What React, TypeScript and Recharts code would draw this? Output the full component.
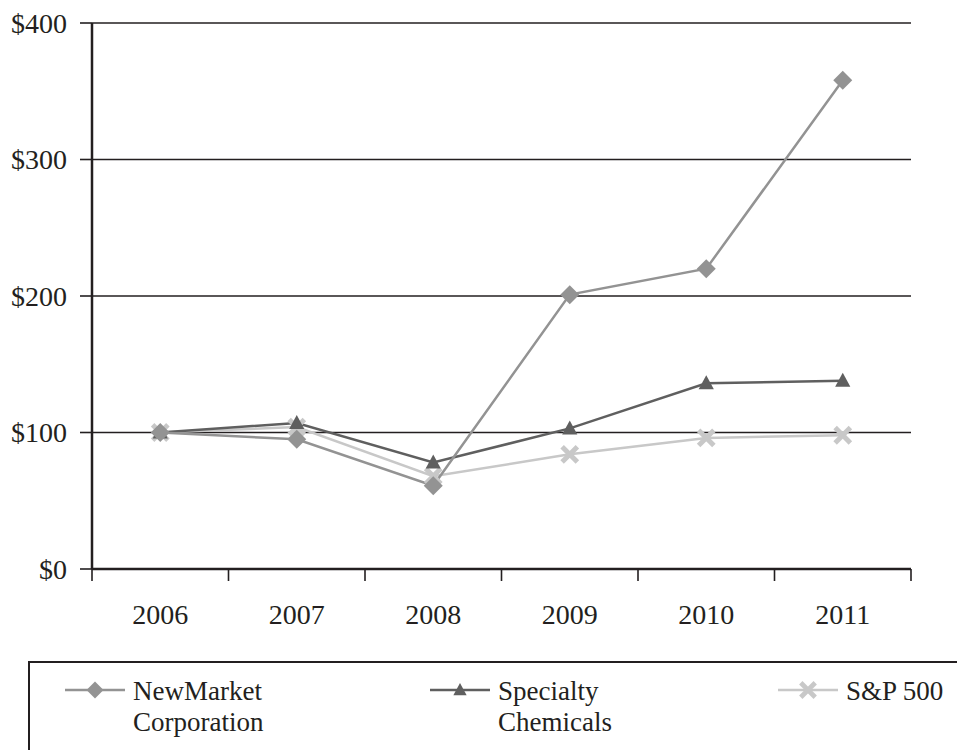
import { LineChart, Line, XAxis, YAxis, CartesianGrid } from "recharts";

const categories = ["2006", "2007", "2008", "2009", "2010", "2011"];
const newMarket = [100, 95, 61, 201, 220, 358];
const specialty = [100, 107, 78, 103, 136, 138];
const sp500 = [100, 104, 68, 84, 96, 98];
const seriesNames = ["NewMarket Corporation", "Specialty Chemicals", "S&P 500"];
const yTicks = [0, 100, 200, 300, 400];

const data = categories.map((year, i) => ({
  x: i + 0.5,
  year,
  newMarket: newMarket[i],
  specialty: specialty[i],
  sp500: sp500[i],
}));

const bandTicks = categories.map((_, i) => i).concat(categories.length);
const labelTicks = categories.map((_, i) => i + 0.5);

const INK = "#231f20";
const FONT = "'Liberation Serif', 'Times New Roman', serif";

const COLORS = { newMarket: "#939393", specialty: "#5f5f5f", sp500: "#c8c8c8" };

type Shape = "diamond" | "triangle" | "cross";

function Marker({ cx, cy, shape, color, size }: { cx: number; cy: number; shape: Shape; color: string; size: number }) {
  if (cx == null || cy == null) return null;
  if (shape === "diamond") {
    const r = size;
    return <polygon points={`${cx},${cy - r} ${cx + r},${cy} ${cx},${cy + r} ${cx - r},${cy}`} fill={color} />;
  }
  if (shape === "triangle") {
    const h = size;
    return (
      <polygon
        points={`${cx},${cy - h} ${cx + h * 0.95},${cy + h * 0.75} ${cx - h * 0.95},${cy + h * 0.75}`}
        fill={color}
      />
    );
  }
  const r = size * 0.85;
  return (
    <g stroke={color} strokeWidth={size * 0.55}>
      <line x1={cx - r} y1={cy - r} x2={cx + r} y2={cy + r} />
      <line x1={cx - r} y1={cy + r} x2={cx + r} y2={cy - r} />
    </g>
  );
}

const series: { key: "newMarket" | "specialty" | "sp500"; name: string; shape: Shape; left: number }[] = [
  { key: "newMarket", name: seriesNames[0], shape: "diamond", left: 57 },
  { key: "specialty", name: seriesNames[1], shape: "triangle", left: 422 },
  { key: "sp500", name: seriesNames[2], shape: "cross", left: 770 },
];

const tickStyle = { fill: INK, fontSize: 28, fontFamily: FONT };

export default function App() {
  // draw order: S&P first, NewMarket on top
  const drawOrder = [series[2], series[1], series[0]];
  return (
    <div style={{ position: "relative", width: 957, height: 742, fontFamily: FONT, color: INK }}>
      <LineChart width={957} height={650} data={data} margin={{ top: 15, right: 54, left: 0, bottom: 0 }}>
        <CartesianGrid vertical={false} stroke={INK} strokeWidth={1.6} />
        <XAxis
          dataKey="x"
          type="number"
          domain={[0, categories.length]}
          ticks={bandTicks}
          interval={0}
          tickFormatter={() => ""}
          height={12}
          tickSize={12}
          stroke={INK}
          axisLine={{ stroke: INK, strokeWidth: 2.5 }}
          tickLine={{ stroke: INK, strokeWidth: 1.6 }}
        />
        <XAxis
          xAxisId="labels"
          dataKey="x"
          type="number"
          domain={[0, categories.length]}
          ticks={labelTicks}
          interval={0}
          tickFormatter={(v: number) => categories[Math.floor(v)]}
          height={77}
          tickSize={0}
          tickMargin={23}
          axisLine={false}
          tickLine={false}
          tick={tickStyle}
        />
        <YAxis
          domain={[0, 400]}
          ticks={yTicks}
          interval={0}
          width={84}
          tickSize={12}
          tickMargin={13}
          tickFormatter={(v: number) => `$${v}`}
          tick={tickStyle}
          axisLine={{ stroke: INK, strokeWidth: 2.5 }}
          tickLine={{ stroke: INK, strokeWidth: 1.6 }}
        />
        {drawOrder.map((s) => (
          <Line
            key={s.key}
            type="linear"
            dataKey={s.key}
            name={s.name}
            stroke={COLORS[s.key]}
            strokeWidth={2.5}
            isAnimationActive={false}
            dot={(p: any) => (
              <Marker
                key={`${s.key}-${p.index}`}
                cx={p.cx}
                cy={p.cy}
                shape={s.shape}
                color={COLORS[s.key]}
                size={s.shape === "diamond" ? 9.5 : s.shape === "triangle" ? 8 : 9}
              />
            )}
            activeDot={false}
          />
        ))}
      </LineChart>
      <div
        style={{
          position: "absolute",
          left: 20,
          top: 653,
          width: 937,
          height: 89,
          borderTop: `2.5px solid ${INK}`,
          borderLeft: `2.5px solid ${INK}`,
          boxSizing: "border-box",
        }}
      />
      {series.map((s) => (
        <div key={s.key} style={{ position: "absolute", left: s.left, top: 668, display: "flex", alignItems: "flex-start" }}>
          <svg width={62} height={28} style={{ marginTop: 0 }}>
            <line x1={0} y1={14} x2={60} y2={14} stroke={COLORS[s.key]} strokeWidth={2.5} />
            <Marker cx={30} cy={14} shape={s.shape} color={COLORS[s.key]} size={s.shape === "diamond" ? 8.5 : s.shape === "triangle" ? 7 : 8.5} />
          </svg>
          <div style={{ marginLeft: 6, fontSize: 27, lineHeight: "31px", width: 150 }}>{s.name}</div>
        </div>
      ))}
    </div>
  );
}
